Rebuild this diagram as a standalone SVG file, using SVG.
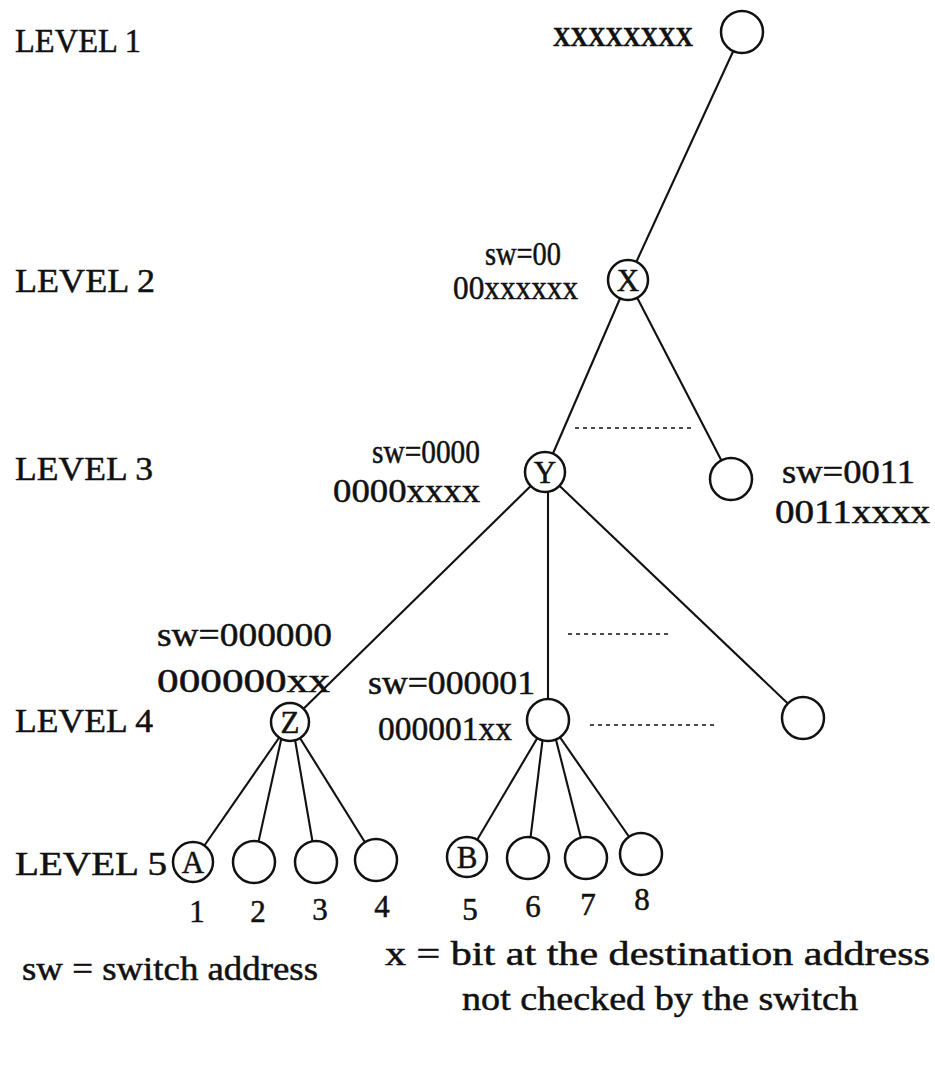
<svg xmlns="http://www.w3.org/2000/svg" width="935" height="1070" viewBox="0 0 935 1070">
<style>
text{font-family:"Liberation Serif","Times New Roman",serif;fill:#111;stroke:#111;stroke-width:0.5}
.lvl{font-size:33px}
.lab{font-size:34px}
.num{font-size:31px;text-anchor:middle}
.nl{font-size:31px;text-anchor:middle}
.node{fill:#fff;stroke:#111;stroke-width:2.5}
.edge{stroke:#111;stroke-width:2.1;fill:none}
.dot{stroke:#111;stroke-width:1.6;stroke-dasharray:4 4;fill:none}
</style>
<rect width="935" height="1070" fill="#fff"/>
<g id="level-labels">
<text class="lvl" x="15" y="52" textLength="126" lengthAdjust="spacingAndGlyphs">LEVEL 1</text>
<text class="lvl" x="15" y="292" textLength="140" lengthAdjust="spacingAndGlyphs">LEVEL 2</text>
<text class="lvl" x="15" y="480" textLength="138" lengthAdjust="spacingAndGlyphs">LEVEL 3</text>
<text class="lvl" x="15" y="732" textLength="138" lengthAdjust="spacingAndGlyphs">LEVEL 4</text>
<text class="lvl" x="15" y="875" textLength="152" lengthAdjust="spacingAndGlyphs">LEVEL 5</text>
</g>
<g id="connectors">
<line class="edge" x1="742" y1="32" x2="628" y2="280"/>
<line class="edge" x1="628" y1="280" x2="545" y2="472"/>
<line class="edge" x1="628" y1="280" x2="731" y2="479"/>
<line class="edge" x1="545" y1="472" x2="290" y2="722"/>
<line class="edge" x1="548" y1="472" x2="548" y2="720"/>
<line class="edge" x1="545" y1="472" x2="803" y2="718"/>
<line class="edge" x1="290" y1="722" x2="193" y2="862"/>
<line class="edge" x1="285" y1="722" x2="254" y2="862"/>
<line class="edge" x1="292" y1="722" x2="316" y2="862"/>
<line class="edge" x1="290" y1="722" x2="376" y2="860"/>
<line class="edge" x1="548" y1="720" x2="467" y2="857"/>
<line class="edge" x1="545" y1="720" x2="528" y2="858"/>
<line class="edge" x1="551" y1="720" x2="586" y2="858"/>
<line class="edge" x1="548" y1="720" x2="641" y2="854"/>
<line class="dot" x1="575" y1="428" x2="693" y2="428"/>
<line class="dot" x1="568" y1="634" x2="672" y2="634"/>
<line class="dot" x1="590" y1="725" x2="715" y2="725"/>
</g>
<g id="root">
<circle class="node" cx="742" cy="32" r="21"/>
<text x="553" y="46" font-size="28" font-weight="bold" textLength="140" lengthAdjust="spacingAndGlyphs">XXXXXXXX</text>
</g>
<g id="node-X">
<circle class="node" cx="628" cy="280" r="20"/>
<text class="nl" x="628" y="291">X</text>
<text class="lab" x="485" y="265" textLength="76" lengthAdjust="spacingAndGlyphs">sw=00</text>
<text class="lab" x="453" y="299" textLength="125" lengthAdjust="spacingAndGlyphs">00xxxxxx</text>
</g>
<g id="node-Y">
<circle class="node" cx="545" cy="472" r="20"/>
<text class="nl" x="545" y="483">Y</text>
<text class="lab" x="372" y="463" textLength="108" lengthAdjust="spacingAndGlyphs">sw=0000</text>
<text class="lab" x="333" y="502" textLength="147" lengthAdjust="spacingAndGlyphs">0000xxxx</text>
</g>
<g id="node-0011">
<circle class="node" cx="731" cy="479" r="21"/>
<text class="lab" x="782" y="483" textLength="133" lengthAdjust="spacingAndGlyphs">sw=0011</text>
<text class="lab" x="775" y="523" textLength="155" lengthAdjust="spacingAndGlyphs">0011xxxx</text>
</g>
<g id="node-Z">
<circle class="node" cx="290" cy="722" r="19"/>
<text class="nl" x="290" y="733">Z</text>
<text class="lab" x="157" y="646" textLength="175" lengthAdjust="spacingAndGlyphs">sw=000000</text>
<text class="lab" x="157" y="692" textLength="173" lengthAdjust="spacingAndGlyphs">000000xx</text>
</g>
<g id="node-000001">
<circle class="node" cx="548" cy="720" r="21"/>
<text class="lab" x="368" y="694" textLength="167" lengthAdjust="spacingAndGlyphs">sw=000001</text>
<text class="lab" x="378" y="740" textLength="134" lengthAdjust="spacingAndGlyphs">000001xx</text>
</g>
<g id="node-L4-right">
<circle class="node" cx="803" cy="718" r="21"/>
</g>
<g id="leaf-1"><circle class="node" cx="193" cy="862" r="20"/><text class="nl" x="193" y="873">A</text><text class="num" x="197" y="922">1</text></g>
<g id="leaf-2"><circle class="node" cx="254" cy="862" r="21"/><text class="num" x="258" y="922">2</text></g>
<g id="leaf-3"><circle class="node" cx="316" cy="862" r="21"/><text class="num" x="320" y="920">3</text></g>
<g id="leaf-4"><circle class="node" cx="376" cy="860" r="21"/><text class="num" x="382" y="917">4</text></g>
<g id="leaf-5"><circle class="node" cx="467" cy="857" r="20"/><text class="nl" x="467" y="868">B</text><text class="num" x="470" y="920">5</text></g>
<g id="leaf-6"><circle class="node" cx="528" cy="858" r="21"/><text class="num" x="533" y="917">6</text></g>
<g id="leaf-7"><circle class="node" cx="586" cy="858" r="21"/><text class="num" x="588" y="915">7</text></g>
<g id="leaf-8"><circle class="node" cx="641" cy="854" r="21"/><text class="num" x="642" y="910">8</text></g>
<g id="legend">
<text class="lab" x="22" y="980" textLength="296" lengthAdjust="spacingAndGlyphs">sw = switch address</text>
<text class="lab" x="385" y="965" textLength="545" lengthAdjust="spacingAndGlyphs">x = bit at the destination address</text>
<text class="lab" x="462" y="1010" textLength="396" lengthAdjust="spacingAndGlyphs">not checked by the switch</text>
</g>
</svg>
